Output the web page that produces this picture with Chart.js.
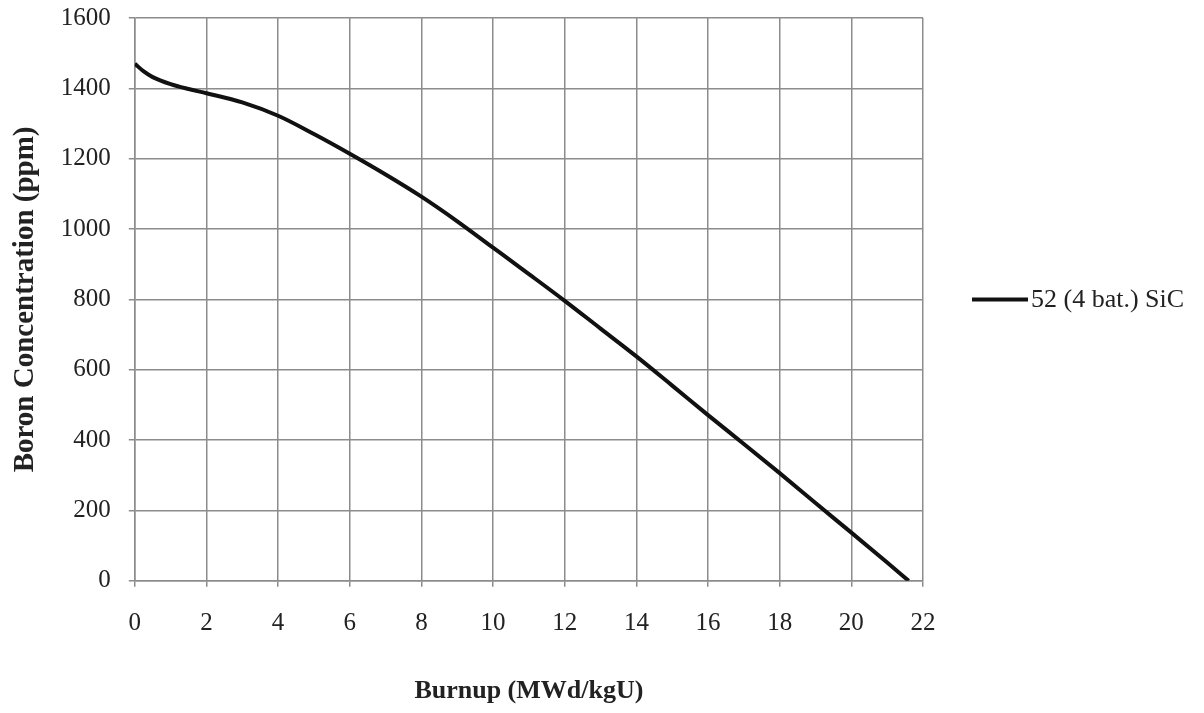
<!DOCTYPE html>
<html>
<head>
<meta charset="utf-8">
<script src="https://cdn.jsdelivr.net/npm/chart.js@4/dist/chart.umd.min.js"></script>
<style>
html,body{margin:0;padding:0;background:#fff;}
#wrap{width:1204px;height:713px;}
</style>
</head>
<body>
<div id="wrap"><canvas id="c" width="1204" height="713"></canvas></div>
<script>
const seriesLabel = "52 (4 bat.) SiC";
const burnup = [0, 0.25, 0.5, 1, 1.5, 2, 3, 4, 5, 6, 7, 8, 9, 10, 11, 12, 13, 14, 15, 16, 17, 18, 19, 20, 21, 21.6];
const boron  = [1470, 1448, 1432, 1412, 1398, 1386, 1360, 1322, 1270, 1214, 1155, 1092, 1022, 947, 872, 796, 717, 638, 555, 471, 389, 306, 221, 137, 52, 0];
const xTitle = "Burnup (MWd/kgU)";
const yTitle = "Boron Concentration (ppm)";

const points = burnup.map((x, i) => ({x: x, y: boron[i]}));
const serif = '"Liberation Serif", "Times New Roman", serif';

const legendPlugin = {
  id: 'sideLegend',
  afterDraw(chart) {
    const ctx = chart.ctx;
    const area = chart.chartArea;
    const yMid = (area.top + area.bottom) / 2;
    const ds = chart.data.datasets[0];
    const x0 = area.right + 49;
    ctx.save();
    ctx.strokeStyle = ds.borderColor;
    ctx.lineWidth = 4;
    ctx.beginPath();
    ctx.moveTo(x0, yMid);
    ctx.lineTo(x0 + 56, yMid);
    ctx.stroke();
    ctx.fillStyle = '#222';
    ctx.font = '26px ' + serif;
    ctx.textAlign = 'left';
    ctx.textBaseline = 'middle';
    ctx.fillText(ds.label, x0 + 59, yMid + 1);
    ctx.restore();
  }
};

new Chart(document.getElementById('c'), {
  type: 'line',
  data: {
    datasets: [{
      label: seriesLabel,
      data: points,
      borderColor: '#111',
      borderWidth: 4,
      pointRadius: 0,
      fill: false,
      cubicInterpolationMode: 'monotone'
    }]
  },
  options: {
    responsive: false,
    animation: false,
    layout: { padding: { left: 4, right: 281, top: 18, bottom: 2 } },
    plugins: { legend: { display: false }, tooltip: { enabled: false } },
    scales: {
      x: {
        type: 'linear',
        min: 0, max: 22,
        ticks: {
          stepSize: 2,
          color: '#222',
          padding: 22,
          callback: (v) => String(v),
          font: { family: serif, size: 25 }
        },
        grid: { color: '#8c8c8c', lineWidth: 1.5, tickLength: 6 },
        border: { color: '#8c8c8c', width: 1.5 },
        title: {
          display: true, text: xTitle, color: '#222',
          padding: { top: 15, bottom: 4 },
          font: { family: serif, size: 26, weight: 'bold' }
        }
      },
      y: {
        type: 'linear',
        min: 0, max: 1600,
        afterFit: (scale) => { scale.paddingTop = 0; },
        ticks: {
          stepSize: 200,
          color: '#222',
          padding: 18,
          callback: (v) => String(v),
          font: { family: serif, size: 25 }
        },
        grid: { color: '#8c8c8c', lineWidth: 1.5, tickLength: 6 },
        border: { color: '#8c8c8c', width: 1.5 },
        title: {
          display: true, text: yTitle, color: '#222',
          padding: { top: 4, bottom: 0 },
          font: { family: serif, size: 29, weight: 'bold' }
        }
      }
    }
  },
  plugins: [legendPlugin]
});
</script>
</body>
</html>
